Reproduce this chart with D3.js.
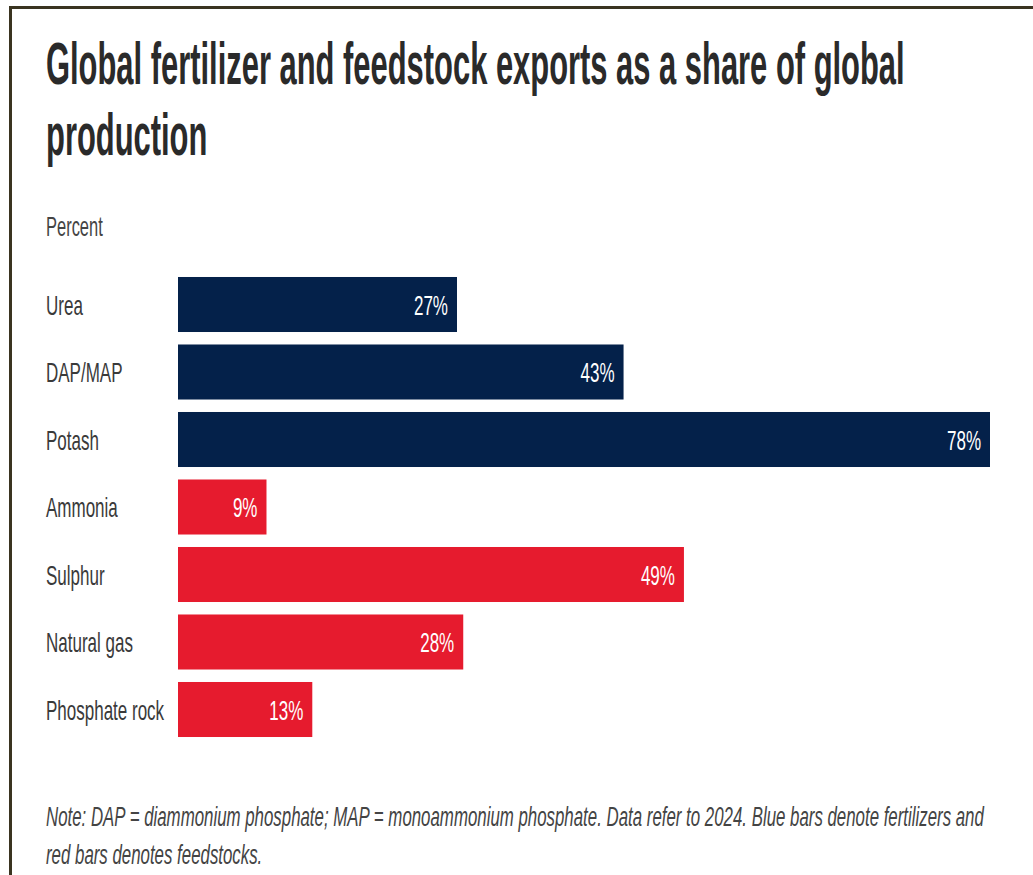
<!DOCTYPE html>
<html><head><meta charset="utf-8">
<script src="https://cdn.jsdelivr.net/npm/d3@7"></script>
<style>html,body{margin:0;padding:0;background:#fff;}svg{display:block;}</style>
</head><body>
<script>
const categories = ["Urea","DAP/MAP","Potash","Ammonia","Sulphur","Natural gas","Phosphate rock"];
const values = [26.8,42.8,78,8.5,48.6,27.4,12.9];
const valueLabels = ["27%","43%","78%","9%","49%","28%","13%"];
const groups = ["fertilizer","fertilizer","fertilizer","feedstock","feedstock","feedstock","feedstock"];
const titleLines = ["Global fertilizer and feedstock exports as a share of global","production"];
const unitLabel = "Percent";
const noteLines = ["Note: DAP = diammonium phosphate; MAP = monoammonium phosphate. Data refer to 2024. Blue bars denote fertilizers and","red bars denotes feedstocks."];

const W = 1033, H = 875, SX = 0.63;
const svg = d3.select("body").append("svg").attr("width", W).attr("height", H);
svg.append("rect").attr("width", W).attr("height", H).attr("fill", "#fff");
// frame
svg.append("rect").attr("x", 9).attr("y", 6).attr("width", W - 9).attr("height", 3).attr("fill", "#3a3420");
svg.append("rect").attr("x", 9).attr("y", 6).attr("width", 3).attr("height", H - 6).attr("fill", "#3a3420");

const font = "'Liberation Sans', Arial, sans-serif";
function txt(g, x, y, s, size, opts = {}) {
  return g.append("text")
    .attr("transform", `translate(${x},${y}) scale(${opts.sx || SX},1)`)
    .attr("font-family", font).attr("font-size", size)
    .attr("font-weight", opts.weight || "normal")
    .attr("font-style", opts.style || "normal")
    .attr("fill", opts.fill || "#333")
    .attr("text-anchor", opts.anchor || "start")
    .text(s);
}

titleLines.forEach((t, i) => txt(svg, 46, 84 + i * 71, t, 59, {weight: "bold", fill: "#2a2a2a", sx: 0.524}));
txt(svg, 46, 236, unitLabel, 27, {fill: "#444", sx: 0.61});

const x = d3.scaleLinear().domain([0, d3.max(values)]).range([178, 990]);
const y = d3.scaleBand().domain(categories).range([270.75, 270.75 + 7 * 67.5]).paddingInner(0.185).paddingOuter(0.0925);
const color = d3.scaleOrdinal().domain(["fertilizer","feedstock"]).range(["#04214a","#e61b2e"]);

const g = svg.append("g");
g.selectAll("rect.bar").data(categories).join("rect").attr("class","bar")
  .attr("x", x(0)).attr("y", d => y(d))
  .attr("width", (d,i) => x(values[i]) - x(0)).attr("height", y.bandwidth())
  .attr("fill", (d,i) => color(groups[i]));

categories.forEach((c, i) => {
  const cy = y(c) + y.bandwidth() / 2 + 10;
  txt(g, 46, cy, c, 27, {fill: "#3a3a3a"});
  txt(g, x(values[i]) - 9, cy, valueLabels[i], 27, {fill: "#fff", anchor: "end"});
});

noteLines.forEach((t, i) => txt(svg, 46, 826 + i * 38, t, 28, {style: "italic", fill: "#444", sx: 0.602}));
</script>
</body></html>
